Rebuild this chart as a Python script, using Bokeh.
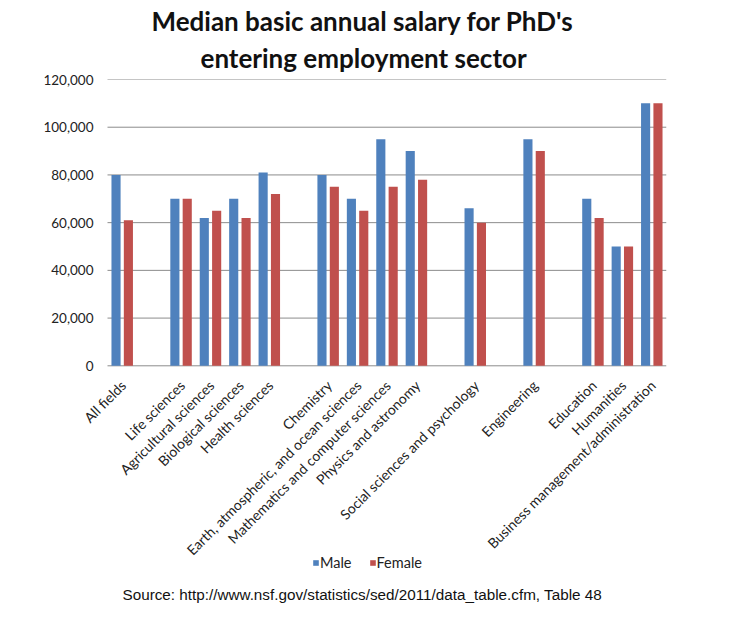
import math
from bokeh.plotting import figure
from bokeh.models import (ColumnDataSource, Legend, LegendItem, Label,
                          Title, NumeralTickFormatter, FixedTicker, Range1d)
from bokeh.core.properties import value
from bokeh.transform import dodge
from bokeh.embed import file_html
from bokeh.resources import INLINE

title_lines = ["Median basic annual salary for PhD's", "entering employment sector"]
source_note = "Source: http://www.nsf.gov/statistics/sed/2011/data_table.cfm, Table 48"

fields = ["All fields",
          "Life sciences", "Agricultural sciences", "Biological sciences", "Health sciences",
          "Chemistry", "Earth, atmospheric, and ocean sciences",
          "Mathematics and computer sciences", "Physics and astronomy",
          "Social sciences and psychology",
          "Engineering",
          "Education", "Humanities", "Business management/administration"]
field_groups = ["All",
                "Life", "Life", "Life", "Life",
                "Physical", "Physical", "Physical", "Physical",
                "Social",
                "Engineering",
                "Other", "Other", "Other"]
male = [80000, 70000, 62000, 70000, 81000, 80000, 70000, 95000, 90000, 66000, 95000, 70000, 50000, 110000]
female = [61000, 70000, 65000, 62000, 72000, 75000, 65000, 75000, 78000, 60000, 90000, 62000, 50000, 110000]
y_ticks = [0, 20000, 40000, 60000, 80000, 100000, 120000]

BLUE = "#4F81BD"
RED = "#C0504D"
GRID = "#8c8c8c"
TEXT = "#222222"
FONT = "Lato"

# category slots: one empty slot between consecutive groups
xs = []
slot = 0
prev = None
for g in field_groups:
    if prev is not None and g != prev:
        slot += 1
    xs.append(slot)
    slot += 1
    prev = g
n_slots = slot

# layout (pixels)
PLOT_W = 559             # width of the category area
LEFT_PAD = 25            # extra room so rotated labels are not clipped
FRAME_W, FRAME_H = PLOT_W + LEFT_PAD, 557
ZERO_PX = 286.3          # distance from frame top to the zero line
px_per_slot = PLOT_W / n_slots
x_start = -0.5 - LEFT_PAD / px_per_slot
x_end = n_slots - 0.5
y_end = 120000
y_start = -y_end * (FRAME_H - ZERO_PX) / ZERO_PX

src = ColumnDataSource(dict(x=xs, male=male, female=female, label=fields,
                            base=[0] * len(fields)))
grid_src = ColumnDataSource(dict(y=y_ticks, x0=[-0.5] * len(y_ticks),
                                 x1=[n_slots - 0.5] * len(y_ticks)))

p = figure(frame_width=FRAME_W, frame_height=FRAME_H,
           x_range=Range1d(x_start, x_end), y_range=Range1d(y_start, y_end),
           output_backend="svg", toolbar_location=None, title=None,
           min_border_left=82, min_border_right=62, min_border_top=79, min_border_bottom=5)

# horizontal gridlines spanning the category area only
p.segment(x0="x0", x1="x1", y0="y", y1="y", source=grid_src, line_color=GRID, line_width=1)

r_m = p.vbar(x=dodge("x", -0.21), top="male", width=0.31, source=src,
             fill_color=BLUE, line_color=None)
r_f = p.vbar(x=dodge("x", 0.21), top="female", width=0.31, source=src,
             fill_color=RED, line_color=None)

# category labels, rotated, hanging from the zero line
p.text(x="x", y="base", text="label", source=src, angle=math.pi / 4,
       text_align="right", text_baseline="middle", x_offset=1, y_offset=17,
       text_font=value(FONT), text_font_size="14px", text_color=TEXT)

p.outline_line_color = None
p.grid.visible = False
p.xaxis.visible = False

p.yaxis.ticker = FixedTicker(ticks=y_ticks)
p.yaxis.formatter = NumeralTickFormatter(format="0,0")
p.yaxis.axis_line_color = None
p.yaxis.major_tick_line_color = None
p.yaxis.minor_tick_line_color = None
p.yaxis.major_tick_out = 0
p.yaxis.major_tick_in = 0
p.yaxis.major_label_standoff = -11
p.yaxis.major_label_text_font = FONT
p.yaxis.major_label_text_font_size = "13.5px"
p.yaxis.major_label_text_color = TEXT

p.add_layout(Title(text=title_lines[1], align="left", offset=118, standoff=11, text_font=FONT,
                   text_font_style="bold", text_font_size="26px", text_color="#111111"), "above")
p.add_layout(Title(text=title_lines[0], align="left", offset=69, standoff=-5, text_font=FONT,
                   text_font_style="bold", text_font_size="26px", text_color="#111111"), "above")

legend = Legend(items=[LegendItem(label="Male", renderers=[r_m]),
                       LegendItem(label="Female", renderers=[r_f])],
                orientation="horizontal", location=(230, 65),
                glyph_width=7, glyph_height=7, label_height=7, label_standoff=1, spacing=17,
                padding=0, margin=0, border_line_color=None, background_fill_alpha=0,
                label_text_font=FONT, label_text_font_size="14.5px", label_text_color=TEXT)
p.add_layout(legend, "center")

p.add_layout(Label(x=40, y=42, x_units="screen", y_units="screen", text=source_note,
                   text_baseline="middle", text_font="Liberation Sans", text_font_size="15.25px",
                   text_color="#111111"))

open("out.html", "w").write(file_html(p, INLINE))
